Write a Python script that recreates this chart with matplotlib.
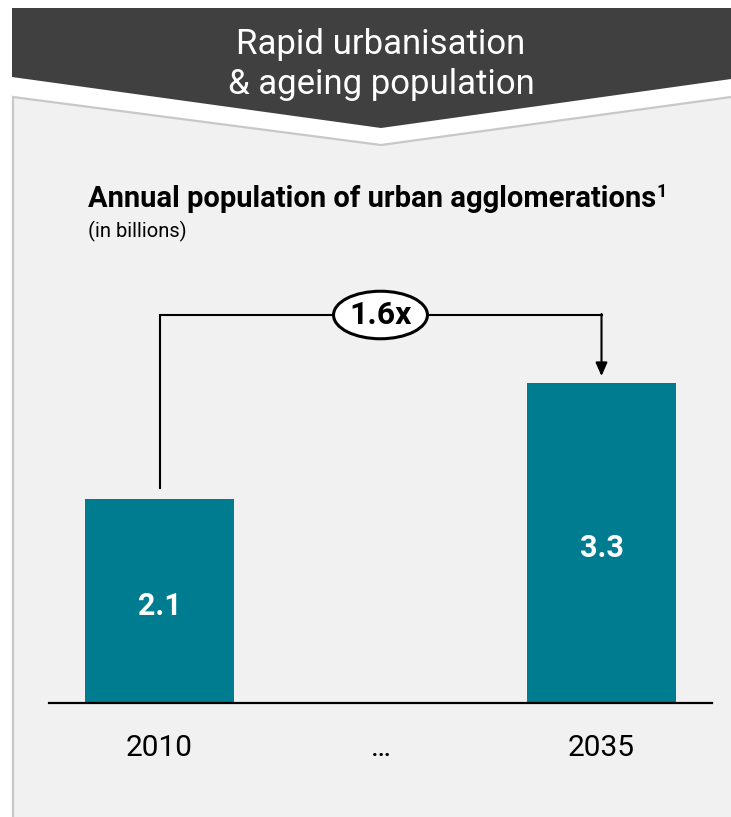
import numpy as np
import matplotlib
matplotlib.use('Agg')
import matplotlib.pyplot as plt
from matplotlib.patches import Polygon, Ellipse

plt.rcParams['font.family'] = ['Roboto', 'DejaVu Sans']

# data
years = ['2010', '…', '2035']
values = [2.1, np.nan, 3.3]
growth_label = '1.6x'

bar_color = '#007c91'
header_color = '#404040'
panel_color = '#f1f1f1'
border_color = '#c8c8c8'

fig = plt.figure(figsize=(7.31, 8.17), dpi=100)
fig.patch.set_facecolor('white')

# background layer in pixel coordinates
bg = fig.add_axes([0, 0, 1, 1])
bg.set_xlim(0, 731)
bg.set_ylim(817, 0)
bg.axis('off')

# grey panel with chevron cut at the top
panel = Polygon([(12, 817), (12, 97), (381, 145), (731, 97), (731, 817)],
                closed=True, facecolor=panel_color, edgecolor='none')
bg.add_patch(panel)
bg.plot([13, 13, 381, 731], [817, 97, 145, 97], color=border_color, lw=1.6,
        solid_joinstyle='miter')

# dark header chevron
header = Polygon([(12, 8), (731, 8), (731, 79), (381, 128), (12, 77)],
                 closed=True, facecolor=header_color, edgecolor='none')
bg.add_patch(header)
bg.text(381, 54, 'Rapid urbanisation', color='white', fontsize=25,
        ha='center', va='baseline')
bg.text(381, 94, '& ageing population', color='white', fontsize=25,
        ha='center', va='baseline')

# title with superscript footnote marker
t = bg.text(88, 207, 'Annual population of urban agglomerations', fontsize=21,
            fontweight='bold', color='black', ha='left', va='baseline')
fig.canvas.draw()
bb = t.get_window_extent()
x_end = bg.transData.inverted().transform((bb.x1, bb.y0))[0]
bg.text(x_end + 0.5, 197, '1', fontsize=13, fontweight='bold', color='black',
        ha='left', va='baseline')
bg.text(88, 237, '(in billions)', fontsize=14.5, color='black',
        ha='left', va='baseline')

# chart axes
ax = fig.add_axes([49 / 731, 114 / 817, 663 / 731, 453 / 817])
ax.set_facecolor('none')
x = np.arange(len(years))
vals = np.array(values)
has = ~np.isnan(vals)
ax.bar(x[has], vals[has], width=0.67, color=bar_color, zorder=2)
for xi, v in zip(x[has], vals[has]):
    ax.text(xi, v / 2 - 0.05, f'{v:.1f}', color='white', fontsize=22,
            fontweight='bold', ha='center', va='center')

ax.set_xlim(-0.5, 2.5)
ax.set_ylim(0, 453 / 97)
for s in ['top', 'right', 'left']:
    ax.spines[s].set_visible(False)
ax.spines['bottom'].set_linewidth(1.6)
ax.set_yticks([])
ax.set_xticks(x)
ax.set_xticklabels(years, fontsize=21.5)
ax.tick_params(axis='x', length=0, pad=22)

# growth bracket
i0, i1 = 0, 2
top = vals[i1] + 0.7
ax.plot([x[i0], x[i0], x[i1]], [vals[i0] + 0.12, top, top], color='black',
        lw=1.5, zorder=3, solid_joinstyle='miter')
ax.annotate('', xy=(x[i1], vals[i1] + 0.07), xytext=(x[i1], top + 0.01),
            arrowprops=dict(arrowstyle='-|>,head_length=0.8,head_width=0.35',
                            color='black', lw=1.5, shrinkA=0, shrinkB=0),
            zorder=3)
ax.add_patch(Ellipse(((x[i0] + x[i1]) / 2, top), width=0.425, height=0.49,
                     facecolor='white', edgecolor='black', lw=2.2, zorder=4))
ax.text((x[i0] + x[i1]) / 2, top, growth_label, fontsize=23, fontweight='bold',
        ha='center', va='center', zorder=5)

fig.savefig('out.png', dpi=100)
